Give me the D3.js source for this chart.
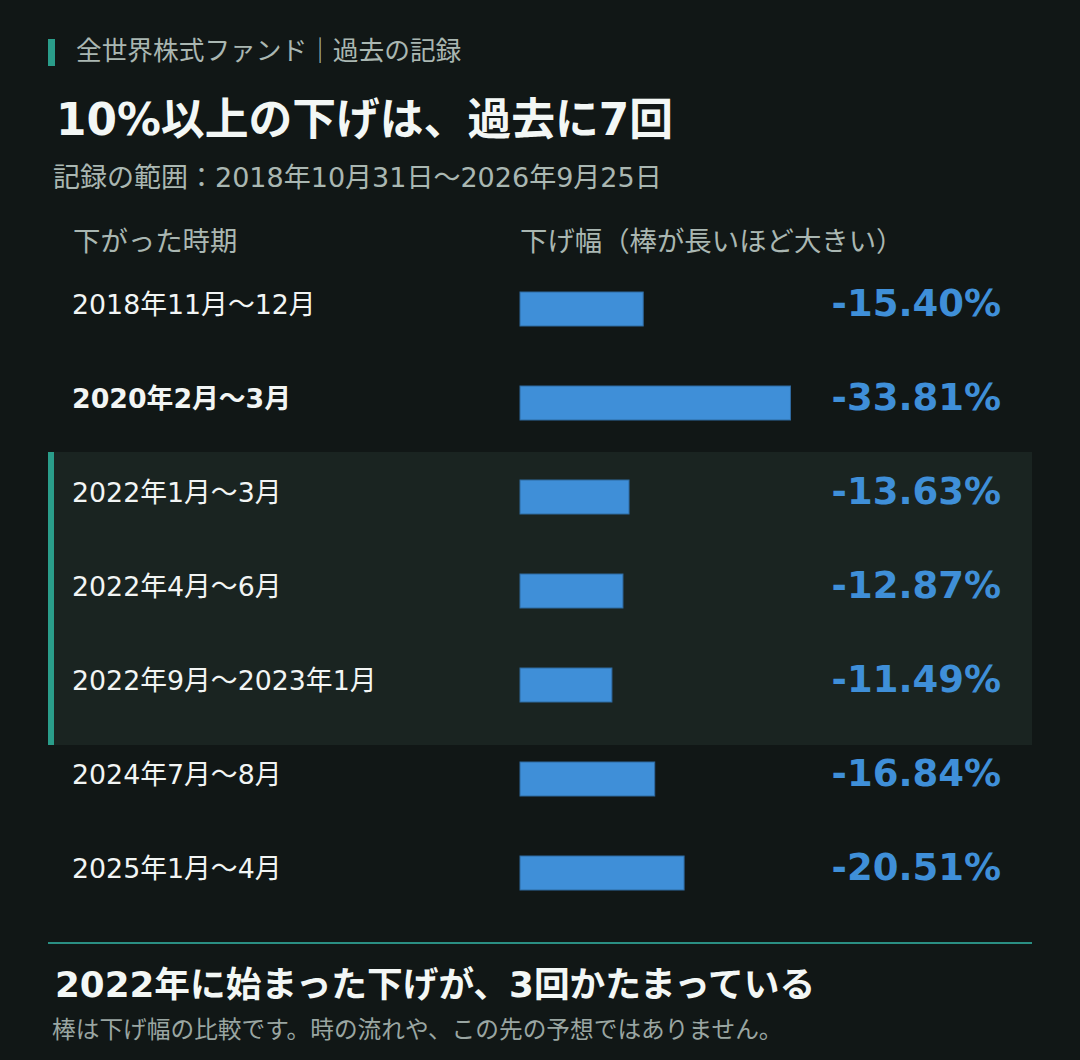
<!DOCTYPE html>
<html>
  <head>
    <meta charset="utf-8">
    <title>10%以上の下げは、過去に7回</title>
    <script src="https://cdn.jsdelivr.net/npm/d3@7"></script>
    <style>
      html, body { margin: 0; padding: 0; background: #111716; }
      svg text { font-family: "DejaVu Sans", "Noto Sans CJK JP", sans-serif; }
    </style>
  </head>
  <body>

  <div id="chart"></div>

  <script>

  // values
  var periods = ["2018年11月～12月", "2020年2月～3月", "2022年1月～3月", "2022年4月～6月", "2022年9月～2023年1月", "2024年7月～8月", "2025年1月～4月"];
  var drops = [15.40, 33.81, 13.63, 12.87, 11.49, 16.84, 20.51];
  var boldPeriods = ["2020年2月～3月"];
  var clusterPeriods = ["2022年1月～3月", "2022年4月～6月", "2022年9月～2023年1月"];

  var width = 1080, height = 1060;
  var teal = "#2a9d8a", blue = "#3f8fd8";

  var svg = d3.select("#chart").append("svg")
      .attr("width", width)
      .attr("height", height)
      .attr("viewBox", "0 0 " + width + " " + height);

  svg.append("rect").attr("width", width).attr("height", height).attr("fill", "#111716");

  var y = d3.scaleBand().domain(periods).range([262, 920]);
  var x = d3.scaleLinear().domain([0, 35]).range([520, 800]);
  var mid = function(d_){ return y(d_) + y.bandwidth() / 2; };

  // header
  svg.append("rect").attr("x", 48).attr("y", 39).attr("width", 7).attr("height", 27).attr("fill", teal);
  svg.append("text").attr("x", 76).attr("y", 60).attr("font-size", 25.7).attr("fill", "#aab7b2")
      .text("全世界株式ファンド｜過去の記録");
  svg.append("text").attr("x", 56).attr("y", 135).attr("font-size", 43.8).attr("font-weight", "bold").attr("fill", "#f3f7f5")
      .text("10%以上の下げは、過去に7回");
  svg.append("text").attr("x", 53).attr("y", 187).attr("font-size", 27).attr("fill", "#aab7b2")
      .text("記録の範囲：2018年10月31日～2026年9月25日");

  // column headers
  svg.append("text").attr("x", 73).attr("y", 251).attr("font-size", 27.4).attr("fill", "#aab7b2").text("下がった時期");
  svg.append("text").attr("x", 520).attr("y", 251).attr("font-size", 27.4).attr("fill", "#aab7b2").text("下げ幅（棒が長いほど大きい）");

  // 2022 cluster band
  var bandTop = mid(clusterPeriods[0]) - 45;
  var bandBottom = mid(clusterPeriods[clusterPeriods.length - 1]) + 60;
  svg.append("rect").attr("x", 48).attr("y", bandTop).attr("width", 984).attr("height", bandBottom - bandTop).attr("fill", "#1a2421");
  svg.append("rect").attr("x", 48).attr("y", bandTop).attr("width", 6).attr("height", bandBottom - bandTop).attr("fill", teal);

  var rows = svg.selectAll(".row")
      .data(periods)
      .enter()
      .append("g")
      .attr("class", "row");

  rows.append("text")
      .attr("x", 72)
      .attr("y", function(d_){ return mid(d_) + 5; })
      .attr("font-size", 26.8)
      .attr("font-weight", function(d_){ return boldPeriods.indexOf(d_) >= 0 ? "bold" : "normal"; })
      .attr("fill", "#f2f5f4")
      .text(function(d_){ return d_; });

  rows.append("rect")
      .attr("x", x(0))
      .attr("y", function(d_){ return mid(d_) - 17; })
      .attr("width", function(d_, i_){ return x(drops[i_]) - x(0); })
      .attr("height", 34)
      .attr("fill", blue)
      .attr("stroke", "#2f6aa0")
      .attr("stroke-width", 1);

  rows.append("text")
      .attr("x", 1001)
      .attr("y", function(d_){ return mid(d_) + 7; })
      .attr("text-anchor", "end")
      .attr("font-size", 37)
      .attr("font-weight", "bold")
      .attr("fill", blue)
      .text(function(d_, i_){ return "-" + drops[i_].toFixed(2) + "%"; });

  // footer
  svg.append("rect").attr("x", 48).attr("y", 942).attr("width", 984).attr("height", 2).attr("fill", "#2a8f83");
  svg.append("text").attr("x", 55).attr("y", 997).attr("font-size", 35.7).attr("font-weight", "bold").attr("fill", "#f3f7f5")
      .text("2022年に始まった下げが、3回かたまっている");
  svg.append("text").attr("x", 52).attr("y", 1038).attr("font-size", 23.7).attr("fill", "#9aa6a2")
      .text("棒は下げ幅の比較です。時の流れや、この先の予想ではありません。");

  </script>

  </body>
</html>
